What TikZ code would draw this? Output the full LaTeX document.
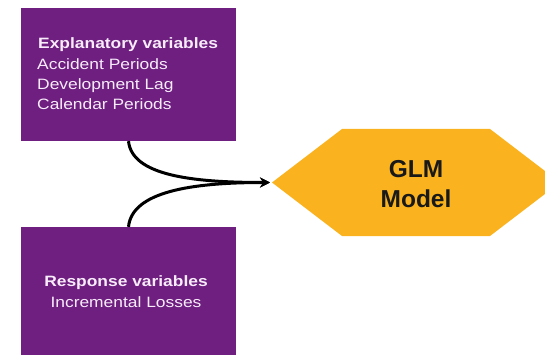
\documentclass[tikz,border=0pt]{standalone}
\usepackage{fontspec}
\setmainfont{Liberation Sans}[FakeStretch=1.16]
\newfontfamily\glmfont{Liberation Sans}
\usetikzlibrary{arrows.meta}
\definecolor{boxpurple}{RGB}{110,31,128}
\definecolor{hexgold}{RGB}{250,179,30}
\definecolor{boxtext}{RGB}{248,236,250}
\tikzset{
  purplebox/.style={draw=none, fill=boxpurple, minimum width=215pt, inner sep=0pt},
  boxline/.style={text=boxtext, font=\fontsize{15}{20}\selectfont, inner sep=0pt},
  boxhead/.style={boxline, font=\fontsize{15}{20}\selectfont\bfseries},
  connector/.style={line width=3pt, black, -{Stealth[length=10pt,width=10pt]}},
  glmtext/.style={font=\glmfont\fontsize{24.5}{30}\selectfont\bfseries, text=black!90, inner sep=0pt}
}
\begin{document}
\begin{tikzpicture}[x=1pt,y=-1pt]
\useasboundingbox (0,0) rectangle (545,355);
\clip (0,0) rectangle (545,355);
\node[purplebox, minimum height=133pt] (expl) at (128.5,74.5) {};
\node[purplebox, minimum height=128pt] (resp) at (128.5,291) {};
\fill[hexgold] (272,182.5) -- (342,129) -- (490,129) -- (560,182.5) -- (490,236) -- (342,236) -- cycle;
\coordinate (tip) at (270,182.5);
\node[boxhead, anchor=base west] (e1) at (38,48.3) {Explanatory variables};
\node[boxline, anchor=base west] (e2) at (37,69.3) {Accident Periods};
\node[boxline, anchor=base west] (e3) at (37,89.5) {Development Lag};
\node[boxline, anchor=base west] (e4) at (37,109.5) {Calendar Periods};
\node[boxhead, anchor=base] (r1) at (126,286.7) {Response variables};
\node[boxline, anchor=base] (r2) at (126,307) {Incremental Losses};
\node[glmtext, anchor=base] (g1) at (416,177.3) {GLM};
\node[glmtext, anchor=base] (g2) at (416,207.3) {Model};
\draw[connector] (expl.south) .. controls (132,175) and (190,182.5) .. (tip);
\draw[connector] (resp.north) .. controls (132,192) and (190,182.5) .. (tip);
\end{tikzpicture}
\end{document}
